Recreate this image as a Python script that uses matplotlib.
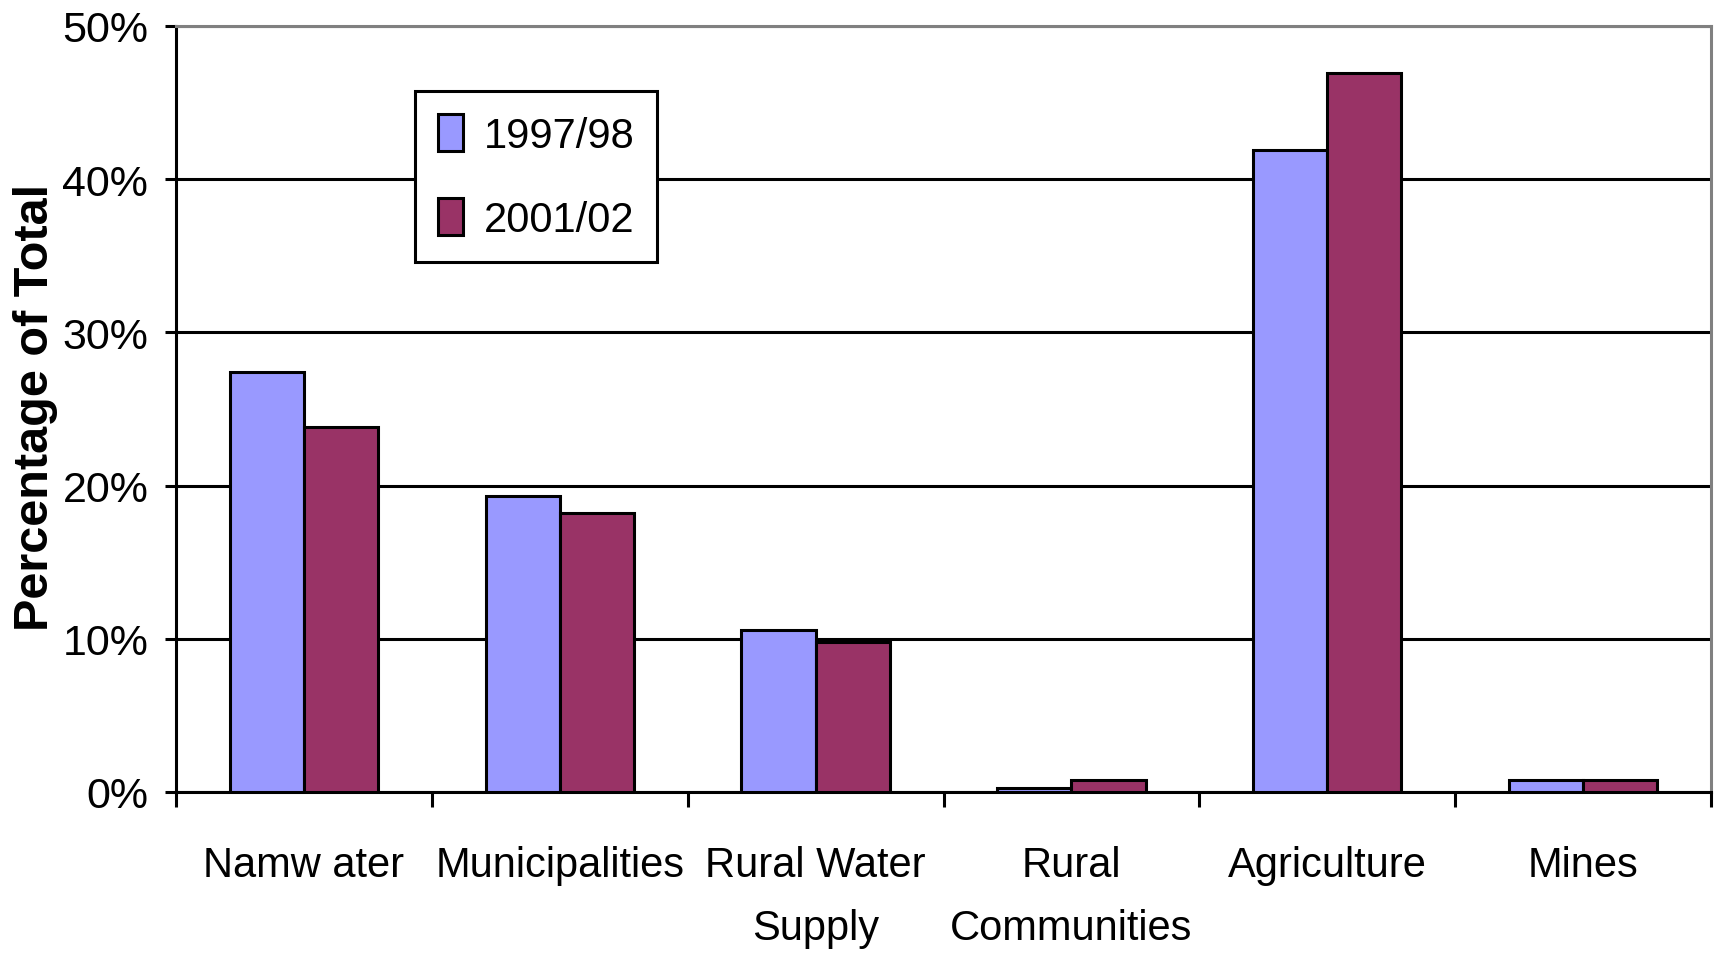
import matplotlib
matplotlib.use("Agg")
import matplotlib.pyplot as plt
import numpy as np

categories = ["Namw ater", "Municipalities", "Rural Water\nSupply", "Rural\nCommunities", "Agriculture", "Mines"]
series_names = ["1997/98", "2001/02"]
values_9798 = [27.4, 19.3, 10.6, 0.25, 41.9, 0.8]
values_0102 = [23.8, 18.2, 9.8, 0.8, 46.9, 0.8]
yticks = [0, 10, 20, 30, 40, 50]
ytick_labels = ["0%", "10%", "20%", "30%", "40%", "50%"]
colors = ["#9999FF", "#993366"]

plt.rcParams['font.family'] = ["Liberation Sans", "DejaVu Sans"]

fig = plt.figure(figsize=(17.21, 9.54), dpi=100)
ax = fig.add_axes([0.1023, 0.1688, 0.8919, 0.8029])

x = np.arange(len(categories))
w = 0.29
for i, (vals, name) in enumerate(zip([values_9798, values_0102], series_names)):
    ax.bar(x + (i - 0.5) * w, vals, width=w, color=colors[i], edgecolor="black",
           linewidth=2.2, label=name, zorder=3)

ax.set_xlim(-0.5, len(categories) - 0.5)
ax.set_ylim(0, 50)
ax.set_yticks(yticks)
ax.set_yticklabels(ytick_labels, fontsize=31)
ax.yaxis.grid(True, color="black", linewidth=2.2, zorder=0)
ax.set_axisbelow(True)

ax.set_xticks(np.arange(len(categories) + 1) - 0.5)
ax.set_xticklabels([])
ax.set_xticks(x, minor=True)
ax.set_xticklabels(categories, minor=True, fontsize=30, linespacing=1.75)
ax.tick_params(axis="x", which="minor", length=0, pad=38)
ax.tick_params(axis="x", which="major", length=11, width=2.2, direction="out")
ax.tick_params(axis="y", length=8, width=2.2, direction="out", pad=12)

for s in ["left", "bottom"]:
    ax.spines[s].set_color("black")
    ax.spines[s].set_linewidth(2.2)
for s in ["top", "right"]:
    ax.spines[s].set_color("#808080")
    ax.spines[s].set_linewidth(2.2)

ax.set_ylabel("Percentage of Total", fontsize=35, fontweight="bold")
ax.yaxis.set_label_coords(-0.077, 0.503)

leg = ax.legend(loc="upper left", bbox_to_anchor=(0.1557, 0.915), fontsize=30,
                frameon=True, fancybox=False, edgecolor="black", framealpha=1,
                handlelength=0.6, handleheight=1.0, handletextpad=0.5,
                labelspacing=1.0, borderpad=0.55, borderaxespad=0)
leg.get_frame().set_linewidth(2.2)
leg.set_zorder(5)
for h in leg.legend_handles:
    h.set_linewidth(2.2)

fig.savefig("out.png", dpi=100)
